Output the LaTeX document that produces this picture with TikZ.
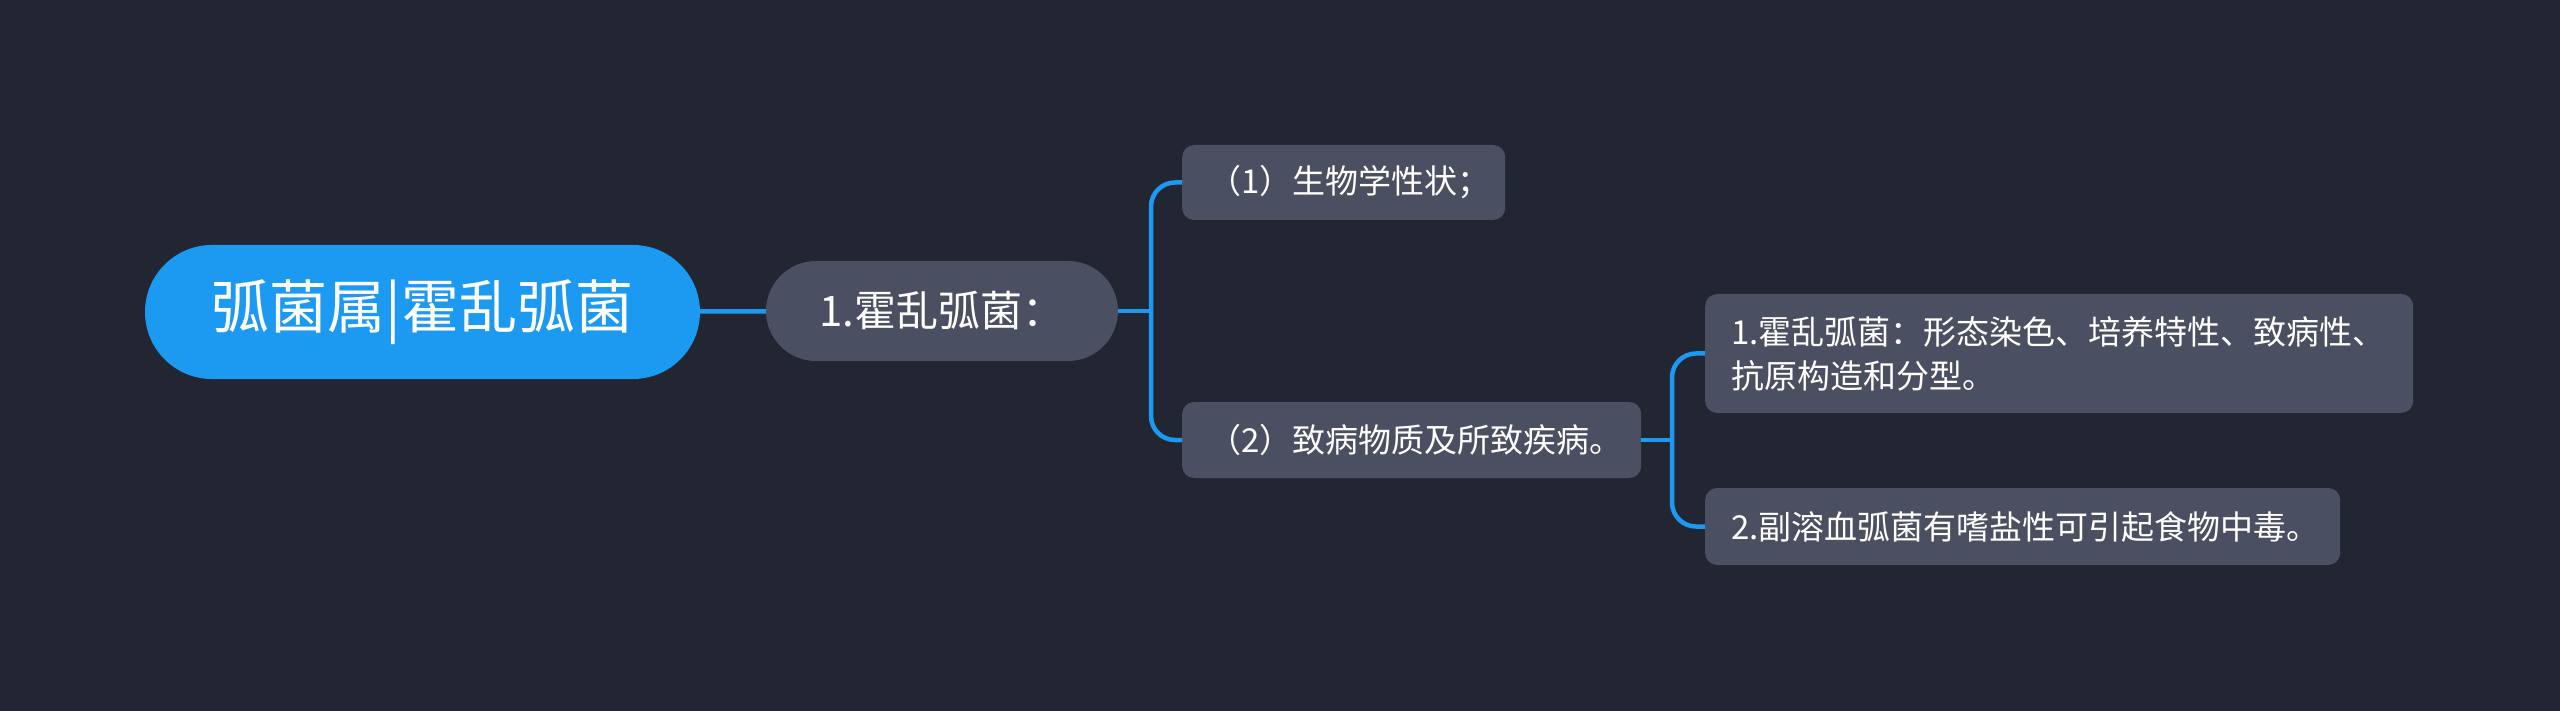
\documentclass[tikz,border=0pt]{standalone}
\usepackage{fontspec}
\setmainfont{Noto Sans CJK SC}
\usetikzlibrary{positioning}

\definecolor{bgcol}{HTML}{222633}
\definecolor{boxcol}{HTML}{4A5061}
\definecolor{linkcol}{HTML}{1C99F0}

\tikzset{
  rootbox/.style={fill=linkcol, text=white, rounded corners=67pt, minimum width=555pt,
    minimum height=134pt, inner sep=0pt, font=\fontsize{58}{62}\selectfont},
  subbox/.style={fill=boxcol, text=white, rounded corners=50pt, minimum width=352pt,
    minimum height=100pt, inner sep=0pt, font=\fontsize{42}{46}\selectfont},
  leafbox/.style={fill=boxcol, text=white, rounded corners=12pt, anchor=west, align=left,
    inner xsep=26pt, inner ysep=0pt, font=\fontsize{33}{44}\selectfont},
  link/.style={draw=linkcol, line width=4.5pt},
}

\begin{document}
\begin{tikzpicture}[x=1pt, y=-1pt]
    % background
    \fill[bgcol] (0,0) rectangle (2560,711);
    \useasboundingbox (0,0) rectangle (2560,711);

    % nodes
    \node[rootbox] (root) at (422.5,312) {弧菌属|霍乱弧菌};
    \node[subbox] (sub) at (942,311) {1.霍乱弧菌：};

    \node[leafbox, text width=271pt, minimum height=75pt] (p1) at (1182,182.5) {（1）生物学性状；};
    \node[leafbox, text width=407pt, minimum height=76pt] (p2) at (1182,440) {（2）致病物质及所致疾病。};

    \node[leafbox, text width=656pt, minimum height=119pt] (c1) at (1705,353.5) {1.霍乱弧菌：形态染色、培养特性、致病性、\\抗原构造和分型。};
    \node[leafbox, text width=583pt, minimum height=77pt] (c2) at (1705,526.5) {2.副溶血弧菌有嗜盐性可引起食物中毒。};

    % branch points
    \coordinate (j1) at (1151,311);
    \coordinate (j2) at (1672,440);

    % edges
    \draw[link] (root) -- (sub);
    \draw[link] (sub) -- (j1);
    \draw[link, rounded corners=24pt] (j1) |- (p1.west);
    \draw[link, rounded corners=24pt] (j1) |- (p2.west);
    \draw[link] (p2) -- (j2);
    \draw[link, rounded corners=24pt] (j2) |- (c1.west);
    \draw[link, rounded corners=24pt] (j2) |- (c2.west);
\end{tikzpicture}
\end{document}
